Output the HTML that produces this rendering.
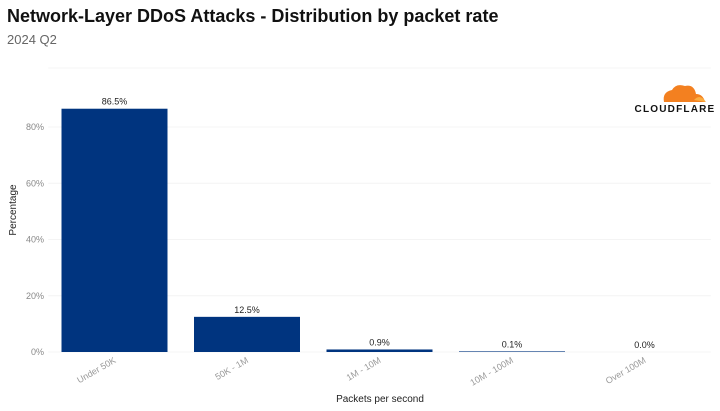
<!DOCTYPE html>
<html><head><meta charset="utf-8"><style>
body{margin:0;background:#fff;font-family:"Liberation Sans",sans-serif}
#wrap{position:relative;width:720px;height:411px;overflow:hidden}
.t{position:absolute;left:7px;top:6px;font-size:18px;font-weight:bold;color:#111}
.s{position:absolute;left:7px;top:32px;font-size:13px;color:#666}
</style></head><body>
<div id="wrap">
<div class="t">Network-Layer DDoS Attacks - Distribution by packet rate</div>
<div class="s">2024 Q2</div>
<svg id="svg" width="720" height="411" style="position:absolute;left:0;top:0">
<g>
<path d="M664 102 Q662 92 672 90 Q676 83 685 86 Q694 84 696 94 Q703 94 705 102 Z" fill="#f38020"/>
<path d="M694 100 Q700 93 706 102 Z" fill="#fbad41"/>
<text x="675" y="112" font-size="10" font-weight="bold" text-anchor="middle" letter-spacing="1.2" fill="#111">CLOUDFLARE</text>
</g>
</svg>
</div>
<script>
const categories=["Under 50K","50K - 1M","1M - 10M","10M - 100M","Over 100M"];
const values=[86.5,12.5,0.9,0.1,0.0];
const valueLabels=["86.5%","12.5%","0.9%","0.1%","0.0%"];
const yTicks=[0,20,40,60,80];
const svg=document.getElementById('svg');const NS='http://www.w3.org/2000/svg';
const x0=48.25,x1=710.75,y0=352,pxPer=2.8125;
const step=(x1-x0)/categories.length,bw=106;
const y=v=>y0-v*pxPer;const xc=i=>x0+step*(i+0.5);
function mk(t,a){const e=document.createElementNS(NS,t);for(const k in a)e.setAttribute(k,a[k]);svg.appendChild(e);return e;}
yTicks.forEach(v=>{
 const g=mk('line',{x1:x0,x2:x1,y1:y(v),y2:y(v),stroke:'#f4f4f4'});
 
 
 const t=mk('text',{x:44,y:y(v)+3,'font-size':9,fill:'#888','text-anchor':'end'});t.textContent=v+'%';
 
 
});
const topLine=mk('line',{x1:x0,x2:x1,y1:68,y2:68,stroke:'#f4f4f4'});


categories.forEach((c,i)=>{
 const h=Math.max(values[i]*pxPer,values[i]>0?0.6:0);
 const r=mk('rect',{x:xc(i)-bw/2,y:y0-h,width:bw,height:h,fill:'#00347f'});
 
 
 const l=mk('text',{x:xc(i),y:y(values[i])-4,'font-size':9,fill:'#222','text-anchor':'middle'});l.textContent=valueLabels[i];
 
 
 const tx=xc(i)+2,ty=362;
 const t=mk('text',{x:tx,y:ty,'font-size':9,fill:'#999','text-anchor':'end',transform:`rotate(-30 ${tx} ${ty})`});t.textContent=c;
 
 
});
const xt=mk('text',{x:380,y:402,'font-size':10,fill:'#222','text-anchor':'middle'});xt.textContent='Packets per second';


const yt=mk('text',{x:16,y:210,'font-size':10,fill:'#222','text-anchor':'middle',transform:'rotate(-90 16 210)'});yt.textContent='Percentage';


</script>
</body></html>
